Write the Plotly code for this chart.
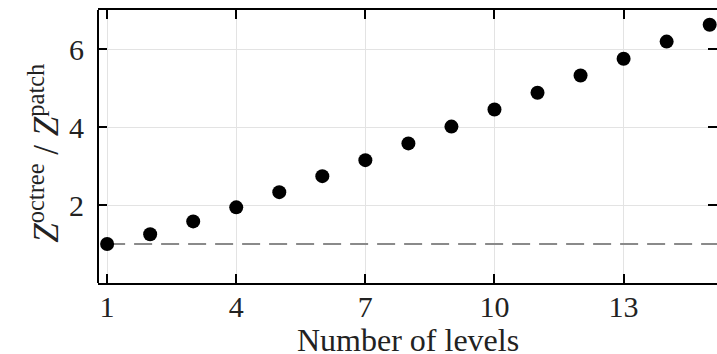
import plotly.graph_objects as go

# Ratio of octree to patch partition size vs. number of refinement levels
levels = list(range(1, 16))
ratio = [1.00, 1.25, 1.58, 1.94, 2.33, 2.74, 3.15, 3.58, 4.01, 4.45,
         4.88, 5.32, 5.75, 6.19, 6.62]
ref_level = 1.0

x_ticks = [1, 4, 7, 10, 13]
y_ticks = [2, 4, 6]

FONT = "Liberation Serif"

fig = go.Figure()

# reference ratio of 1, drawn from the first level onwards (clipped at the frame)
fig.add_trace(go.Scatter(
    x=[levels[0], levels[-1] + 1], y=[ref_level, ref_level], mode="lines",
    line=dict(color="#8a8a8a", width=2, dash="18px,9px"),
    showlegend=False, hoverinfo="skip",
))

fig.add_trace(go.Scatter(
    x=levels, y=ratio, mode="markers",
    marker=dict(color="black", size=14, line=dict(width=0)),
    cliponaxis=False, showlegend=False,
))

axis_common = dict(
    showgrid=True, gridcolor="#e3e3e3", gridwidth=1,
    ticks="inside", ticklen=9, tickwidth=2, tickcolor="black",
    zeroline=False,
    tickfont=dict(family=FONT, size=30, color="#222"),
)

fig.update_xaxes(
    range=[0.788, 15.17], tickvals=x_ticks,
    showline=True, linecolor="black", linewidth=2, mirror="allticks",
    ticklabelstandoff=-4,
    **axis_common,
)
fig.update_yaxes(
    range=[0, 7], tickvals=y_ticks,
    showline=False, mirror="allticks",
    ticklabelstandoff=13,
    **axis_common,
)

# left spine (the right one falls outside the page)
fig.add_shape(type="line", xref="paper", yref="paper", x0=0, x1=0, y0=0, y1=1,
              line=dict(color="black", width=2), layer="above")

fig.add_annotation(
    text="Number of levels",
    xref="paper", yref="paper", x=0.5, y=-0.207,
    xanchor="center", yanchor="middle", showarrow=False,
    font=dict(family=FONT, size=32, color="#222"),
)

fig.add_annotation(
    text="<i>Z</i><sup>octree</sup> / <i>Z</i><sup>patch</sup>",
    xref="paper", yref="paper", x=-0.087, y=0.474,
    xanchor="center", yanchor="middle", textangle=-90, showarrow=False,
    font=dict(family=FONT, size=35, color="#222"),
)

fig.update_layout(
    width=717, height=354,
    margin=dict(l=98, r=0, t=10, b=71),
    plot_bgcolor="white", paper_bgcolor="white",
)

fig.write_html("out.html")
